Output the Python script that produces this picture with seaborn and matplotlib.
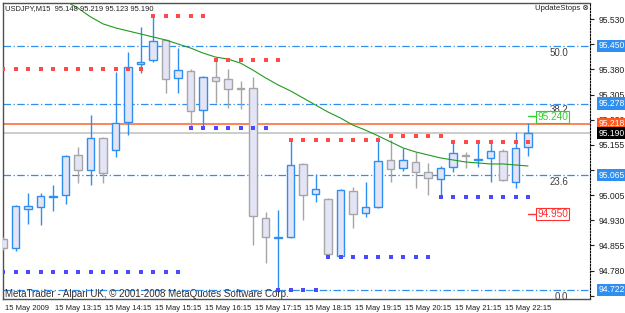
import matplotlib
matplotlib.use("Agg")
import matplotlib.pyplot as plt
import matplotlib.transforms as mtransforms
import pandas as pd
import seaborn as sns

# USDJPY M15, 15 May 2009 12:15 .. 22:45
open_ = [94.874, 94.847, 94.964, 94.970, 95.000, 95.006, 95.125, 95.080, 95.176, 95.140,
         95.223, 95.396, 95.408, 95.468, 95.355, 95.375, 95.259, 95.358, 95.352, 95.324,
         95.325, 94.937, 94.878, 94.880, 95.098, 95.009, 94.994, 94.823, 95.017, 94.952,
         94.970, 95.110, 95.086, 95.104, 95.074, 95.053, 95.089, 95.126, 95.111, 95.116,
         95.137, 95.044, 95.148]
high = [94.880, 94.976, 95.011, 95.011, 95.035, 95.125, 95.149, 95.244, 95.179, 95.372,
        95.432, 95.507, 95.540, 95.471, 95.444, 95.381, 95.361, 95.405, 95.381, 95.346,
        95.358, 94.955, 94.961, 95.170, 95.101, 95.068, 94.997, 95.023, 95.029, 95.044,
        95.179, 95.170, 95.146, 95.134, 95.101, 95.092, 95.164, 95.134, 95.164, 95.164,
        95.143, 95.194, 95.219]
low = [94.841, 94.838, 94.919, 94.916, 94.958, 94.979, 95.041, 95.035, 95.041, 95.119,
       95.185, 95.370, 95.402, 95.310, 95.310, 95.208, 95.208, 95.280, 95.265, 95.262,
       94.856, 94.803, 94.722, 94.877, 94.931, 94.985, 94.823, 94.820, 94.907, 94.940,
       94.967, 95.044, 95.077, 95.026, 95.006, 95.000, 95.074, 95.086, 95.089, 95.044,
       95.047, 95.026, 95.123]
close = [94.847, 94.973, 94.973, 95.003, 95.003, 95.122, 95.080, 95.176, 95.071, 95.220,
         95.387, 95.402, 95.465, 95.352, 95.378, 95.256, 95.358, 95.346, 95.322, 95.321,
         94.943, 94.880, 94.881, 95.095, 95.006, 95.023, 94.829, 95.020, 94.949, 94.970,
         95.107, 95.083, 95.110, 95.074, 95.056, 95.086, 95.131, 95.123, 95.114, 95.137,
         95.050, 95.146, 95.190]

# moving average, from bar 5 on
ma_line = [95.584, 95.563, 95.537, 95.516, 95.504, 95.495, 95.486, 95.477, 95.468, 95.456,
           95.444, 95.429, 95.417, 95.411, 95.399, 95.378, 95.355, 95.334, 95.316, 95.295,
           95.274, 95.253, 95.235, 95.214, 95.199, 95.182, 95.164, 95.146, 95.134, 95.125,
           95.116, 95.110, 95.104, 95.101, 95.098, 95.098, 95.095, 95.092]

# UpdateStops dots
stop_hi = [95.381] * 12 + [95.540] * 5 + [95.408] * 6 + [95.170] * 8 + [95.182] * 5 + [95.164] * 7
stop_lo = [94.776] * 15 + [95.205] * 7 + [94.722] * 4 + [94.821] * 9 + [95.000] * 8

fib_levels = [94.722, 95.065, 95.278, 95.450]
fib_names = ["0.0", "23.6", "38.2", "50.0"]
order_level = 95.218
bid = 95.190
tp_level = 95.240
sl_level = 94.950

price_ticks = [95.530, 95.455, 95.380, 95.305, 95.230, 95.155, 95.080, 95.005,
               94.930, 94.855, 94.780, 94.705]
hidden_ticks = [95.455, 95.080, 94.705]  # sit under the price tags
hour_labels = ["15 May 2009", "15 May 13:15", "15 May 14:15", "15 May 15:15", "15 May 16:15",
               "15 May 17:15", "15 May 18:15", "15 May 19:15", "15 May 20:15", "15 May 21:15",
               "15 May 22:15"]

df = pd.DataFrame({"open": open_, "high": high, "low": low, "close": close})
df["bar"] = range(len(df))
df["up"] = df["close"] >= df["open"]

sns.set_style("white")
plt.rcParams["font.family"] = ["Liberation Sans", "DejaVu Sans"]

UP = "#2f8ff0"
DOWN = "#a6a6a6"
BODY = "#e4e4f7"

fig = plt.figure(figsize=(6.25, 3.13), dpi=100)
ax = fig.add_axes([3 / 625, 14 / 313, 587 / 625, 296 / 313])

# fib / order lines
for lvl in fib_levels:
    ax.axhline(lvl, color="#2f8ff0", lw=0.9, ls=(0, (6, 2, 1, 2)), zorder=1)
ax.axhline(order_level, color="#ff7a4a", lw=1.3, zorder=1)
ax.axhline(bid, color="#c4c4c4", lw=1.2, zorder=1)

# candles
cols = [UP if u else DOWN for u in df["up"]]
ax.vlines(df["bar"], df["low"], df["high"], colors=cols, lw=1, zorder=3)
bottoms = df[["open", "close"]].min(axis=1)
heights = (df["close"] - df["open"]).abs().clip(lower=0.002)
ax.bar(df["bar"], heights, bottom=bottoms, width=0.58, color=BODY,
       edgecolor=cols, linewidth=1, zorder=4)

# moving average
ma_df = pd.DataFrame({"bar": range(5, 5 + len(ma_line)), "ma": ma_line})
sns.lineplot(data=ma_df, x="bar", y="ma", color="#1f9a1f", lw=0.8, ax=ax, zorder=5)

# stop dots
sns.scatterplot(x=df["bar"], y=stop_hi, marker="s", s=6.5, color="#ff4a4a",
                linewidth=0, ax=ax, zorder=6)
sns.scatterplot(x=df["bar"], y=stop_lo, marker="s", s=6.5, color="#4a4aff",
                linewidth=0, ax=ax, zorder=6)

ax.set_xlim(0, 46.96)
ax.set_ylim(94.6951, 95.5783)
ax.set_xlabel("")
ax.set_ylabel("")

# fib labels
for lvl, name in zip(fib_levels, fib_names):
    ax.text(45.2, lvl - 0.005, name, ha="right", va="top", fontsize=7,
            color="#404040", clip_on=False, zorder=7)

# TP / SL labels
ax.plot([42.0, 42.65], [tp_level, tp_level], color="#33cc33", lw=1, zorder=7)
ax.text(42.75, tp_level - 0.002, "95.240", ha="left", va="center", fontsize=7.3,
        color="#33cc33", zorder=8,
        bbox=dict(boxstyle="square,pad=0.1", fc="white", ec="#33cc33", lw=0.8))
ax.plot([42.0, 42.65], [sl_level, sl_level], color="#ff3030", lw=1, zorder=7)
ax.text(42.75, sl_level, "94.950", ha="left", va="center", fontsize=7.3, color="#ff3030",
        bbox=dict(boxstyle="square,pad=0.1", fc="white", ec="#ff3030", lw=0.8), zorder=8)

# axes styling
for side in ["left", "top", "bottom"]:
    ax.spines[side].set_color("#505050")
    ax.spines[side].set_linewidth(1)
ax.spines["right"].set_linestyle((0, (1.5, 1.5)))
ax.spines["right"].set_color("black")

ax.yaxis.tick_right()
ax.set_yticks(price_ticks)
ax.set_yticklabels(["" if v in hidden_ticks else f"{v:.3f}" for v in price_ticks])
ax.tick_params(axis="y", direction="out", length=3, width=0.8, pad=3.5,
               labelsize=6.2, colors="#202020")
ax.set_xticks(range(0, 43, 4))
ax.set_xticklabels(hour_labels)
ax.tick_params(axis="x", direction="out", length=3, width=0.8, pad=1.5,
               labelsize=5.5, colors="#202020")
shift = mtransforms.ScaledTranslation(2 / 100, 0, fig.dpi_scale_trans)
for lab in ax.get_xticklabels():
    lab.set_horizontalalignment("left")
    lab.set_transform(lab.get_transform() + shift)

# price tags on the right scale
tr = mtransforms.blended_transform_factory(ax.transAxes, ax.transData)
tags = [(95.450, "#2f8ff0"), (95.278, "#2f8ff0"), (order_level, "#ff5a1e"),
        (bid, "black"), (95.065, "#2f8ff0"), (94.722, "#2f8ff0")]
for val, c in tags:
    ax.text(1 + 9 / 587, val, f"{val:.3f}", transform=tr, ha="left", va="center",
            fontsize=6.2, color="white", clip_on=False, zorder=10,
            bbox=dict(boxstyle="square,pad=0.2", fc=c, ec=c, lw=0))

fig.text(5 / 625, 1 - 9 / 313, "USDJPY,M15  95.148 95.219 95.123 95.190",
         ha="left", va="center", fontsize=5.4, color="#202020")
fig.text(589 / 625, 1 - 9 / 313, "UpdateStops \u2297", ha="right", va="center",
         fontsize=5.6, color="#202020")
fig.text(5 / 625, 1 - 294 / 313,
         "MetaTrader - Alpari UK, \u00a9 2001-2008 MetaQuotes Software Corp.",
         ha="left", va="center", fontsize=7.0, color="#303030")

fig.savefig("out.png", dpi=100)
